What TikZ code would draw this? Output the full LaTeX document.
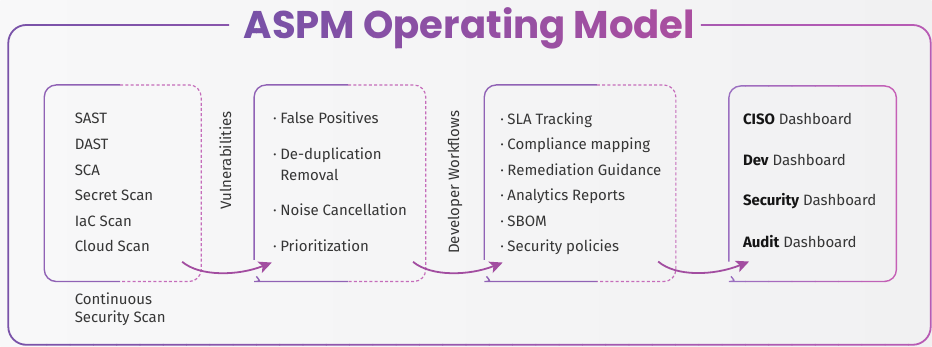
\documentclass[tikz,border=0pt]{standalone}
\usepackage{fontspec}
\setmainfont{Fira Sans}
\newfontfamily\titlefont{Poppins}
\usetikzlibrary{arrows.meta}

\definecolor{aspmpurple}{HTML}{7A53A9}
\definecolor{aspmpink}{HTML}{B85BB4}
\definecolor{aspmedge}{HTML}{9062B5}
\definecolor{aspmdash}{HTML}{C56CBA}
\definecolor{aspmarrow}{HTML}{A24DA0}
\definecolor{aspmtext}{HTML}{363636}
\definecolor{aspmdark}{HTML}{151515}
\definecolor{titleleft}{HTML}{7751A7}
\definecolor{titleright}{HTML}{AB4FA0}
\definecolor{boardleft}{HTML}{9A6FC0}
\definecolor{boardright}{HTML}{C560B6}
\definecolor{bgleft}{HTML}{F8F8F9}
\definecolor{bgright}{HTML}{F1F1F2}

\newcommand{\itm}{\llap{·\hspace{3.5pt}}}
\newcommand{\titletext}{\titlefont\bfseries\fontsize{38.6}{40}\selectfont ASPM Operating Model}

\begin{document}
\begin{tikzpicture}[x=1pt,y=-1pt,
		frame/.style={line width=1.8pt, rounded corners=18pt},
		edge/.style={draw=aspmedge, line width=1.4pt, rounded corners=12pt},
		dashedge/.style={draw=aspmdash, line width=1.2pt, dash pattern=on 3pt off 2.2pt, rounded corners=12pt},
		flow/.style={draw=aspmarrow, line width=1.8pt, -{Stealth[length=13pt,width=12pt,inset=3pt]}},
		txt/.style={anchor=base west, text=aspmtext, font=\fontsize{15}{18}\selectfont, inner sep=0pt},
		side/.style={anchor=base, rotate=90, text=aspmtext, font=\fontsize{15}{18}\selectfont, inner sep=0pt}]
	\shade[left color=bgleft, right color=bgright] (0,0) rectangle (932,347);

	% frame, title and dashboard box are shaded from left to right in thin slices
	\foreach \k in {0,...,39} {
		\pgfmathsetmacro{\xa}{\k*23.3-0.3}
		\pgfmathsetmacro{\xb}{\k*23.3+23.6}
		\pgfmathtruncatemacro{\ringpct}{100*\k/39}
		\pgfmathtruncatemacro{\titlepct}{max(0,min(100,(\k*23.3+11.65-245)/449*100))}
		\pgfmathtruncatemacro{\boardpct}{max(0,min(100,(\k*23.3+11.65-729)/168*100))}
		\begin{scope}
			\clip (\xa,0) rectangle (\xb,347);
			\draw[frame, draw=aspmpink!\ringpct!aspmpurple] (229,25) -| (8,345) -| (931,25) -- (701,25);
			\node[inner sep=0pt, anchor=base, text=titleright!\titlepct!titleleft] (title) at (469.4,38.3) {\titletext};
			\draw[edge, draw=boardright!\boardpct!boardleft] (729,261.7) |- (896.7,86) |- (741,281.7) arc[start angle=270, end angle=215, radius=12pt];
		\end{scope}
	}

	\draw[edge] (120,85) -| (44,281.7) -- (120,281.7);
	\draw[dashedge] (120,85) -| (201,281.7) -- (120,281.7);
	\draw[edge] (348,85) -| (254,260);
	\draw[edge] (256.2,276.6) arc[start angle=215, end angle=270, radius=12pt] -- (348,281.7);
	\draw[dashedge] (348,85) -| (425.7,281.7) -- (348,281.7);
	\draw[edge] (597,85) -| (484.3,260);
	\draw[edge] (486.5,276.6) arc[start angle=215, end angle=270, radius=12pt] -- (597,281.7);
	\draw[dashedge] (597,85) -| (676,281.7) -- (597,281.7);

	\node[txt] (sast) at (74.3,124) {SAST};
	\node[txt] (dast) at (74.3,150) {DAST};
	\node[txt] (sca) at (74.3,176) {SCA};
	\node[txt] (secret) at (74.3,200.7) {Secret Scan};
	\node[txt] (iac) at (74.3,226.7) {IaC Scan};
	\node[txt] (cloud) at (74.3,252) {Cloud Scan};
	\node[txt] (continuous) at (74.3,305) {Continuous};
	\node[txt] (secscan) at (74.3,322.7) {Security Scan};

	\node[side] (vuln) at (231,160.5) {Vulnerabilities};

	\node[txt] (falsepos) at (280,124) {\itm False Positives};
	\node[txt] (dedup) at (280,160) {\itm De-duplication};
	\node[txt] (removal) at (280,181) {Removal};
	\node[txt] (noise) at (280,216) {\itm Noise Cancellation};
	\node[txt] (prio) at (280,251.7) {\itm Prioritization};

	\node[side] (devflow) at (459,182.4) {Developer Workflows};

	\node[txt] (sla) at (507.3,124.3) {\itm SLA Tracking};
	\node[txt] (compliance) at (507.3,150) {\itm Compliance mapping};
	\node[txt] (guidance) at (507.3,175.7) {\itm Remediation Guidance};
	\node[txt] (analytics) at (507.3,200.7) {\itm Analytics Reports};
	\node[txt] (sbom) at (507.3,226.7) {\itm SBOM};
	\node[txt] (policies) at (507.3,252) {\itm Security policies};

	\node[txt] (ciso) at (743,124.3) {\textcolor{aspmdark}{\bfseries CISO} Dashboard};
	\node[txt] (dev) at (743,165.7) {\textcolor{aspmdark}{\bfseries Dev} Dashboard};
	\node[txt] (security) at (743,206) {\textcolor{aspmdark}{\bfseries Security} Dashboard};
	\node[txt] (audit) at (743,247.3) {\textcolor{aspmdark}{\bfseries Audit} Dashboard};

	\coordinate (scanout) at (182,262);
	\coordinate (triagein) at (271.7,262.7);
	\coordinate (triageout) at (413,262);
	\coordinate (flowin) at (502.7,262.7);
	\coordinate (flowout) at (658.3,261.7);
	\coordinate (boardin) at (749.3,261.7);
	\draw[flow] (scanout) .. controls (200,277) and (238,276) .. (triagein);
	\draw[flow] (triageout) .. controls (431,277) and (469,276) .. (flowin);
	\draw[flow] (flowout) .. controls (676,277) and (714,276) .. (boardin);
\end{tikzpicture}
\end{document}
